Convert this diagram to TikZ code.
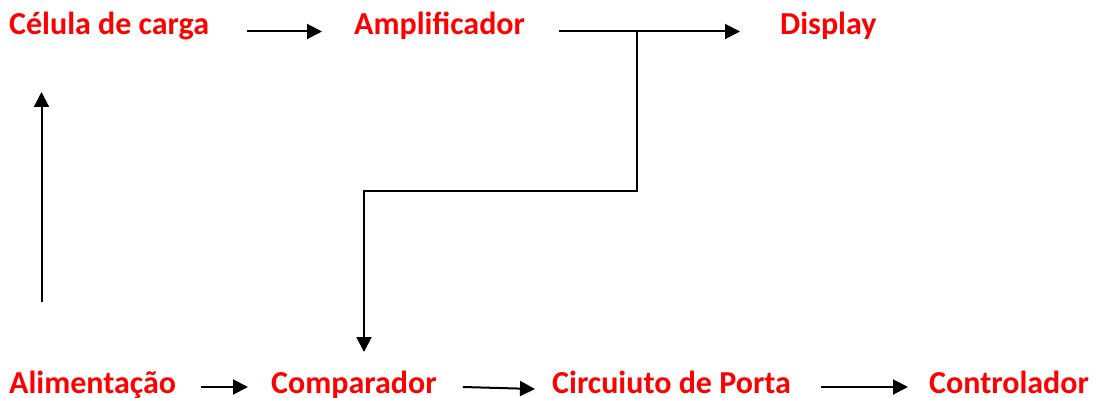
\documentclass[tikz,border=0pt]{standalone}
\usepackage{fontspec}
\setmainfont{Carlito}
\usetikzlibrary{arrows.meta,calc}
\begin{document}
\begin{tikzpicture}[x=1pt,y=-1pt,
  lbl/.style={anchor=base west,inner sep=0pt,text=red,font=\fontsize{32}{37}\selectfont\bfseries},
  arr/.style={draw=black,line width=2pt,-{Triangle[length=15pt,width=15pt]}},
  ln/.style={draw=black,line width=2pt}]
\useasboundingbox (0,0) rectangle (1094,398);
\node[lbl] (cel) at (9,35) {Célula de carga};
\node[lbl] (amp) at (354,35) {Amplificador};
\node[lbl] (dis) at (780,35) {Display};
\node[lbl] (ali) at (9,393) {Alimentação};
\node[lbl] (com) at (271,393) {Comparador};
\node[lbl] (cir) at (552,393) {Circuiuto de Porta};
\node[lbl] (con) at (929,393) {Controlador};
% top row
\draw[arr] ($(cel.base east)+(38,-3.5)$) -- ($(amp.base west)+(-32,-3.5)$);
\draw[arr] ($(amp.base east)+(34,-3.5)$) -- ($(dis.base west)+(-40,-3.5)$);
% branch to comparador
\coordinate (br) at ($(dis.base west)+(-143,-3.5)$);
\coordinate (cp) at ($(com.base west)+(93,-41)$);
\draw[arr,line join=miter] (br) -- (br |- 0,191.5) -- (cp |- 0,191.5) -- (cp);
% left vertical
\draw[arr] ($(ali.base west)+(32.5,-91)$) -- ($(cel.base west)+(32.5,57)$);
% bottom row
\draw[arr] ($(ali.base east)+(25,-6)$) -- ($(com.base west)+(-23,-6)$);
\draw[arr] ($(com.base east)+(26,-6)$) -- ($(cir.base west)+(-17,-4)$);
\draw[arr] ($(cir.base east)+(30,-6)$) -- ($(con.base west)+(-21,-6)$);
\end{tikzpicture}
\end{document}
